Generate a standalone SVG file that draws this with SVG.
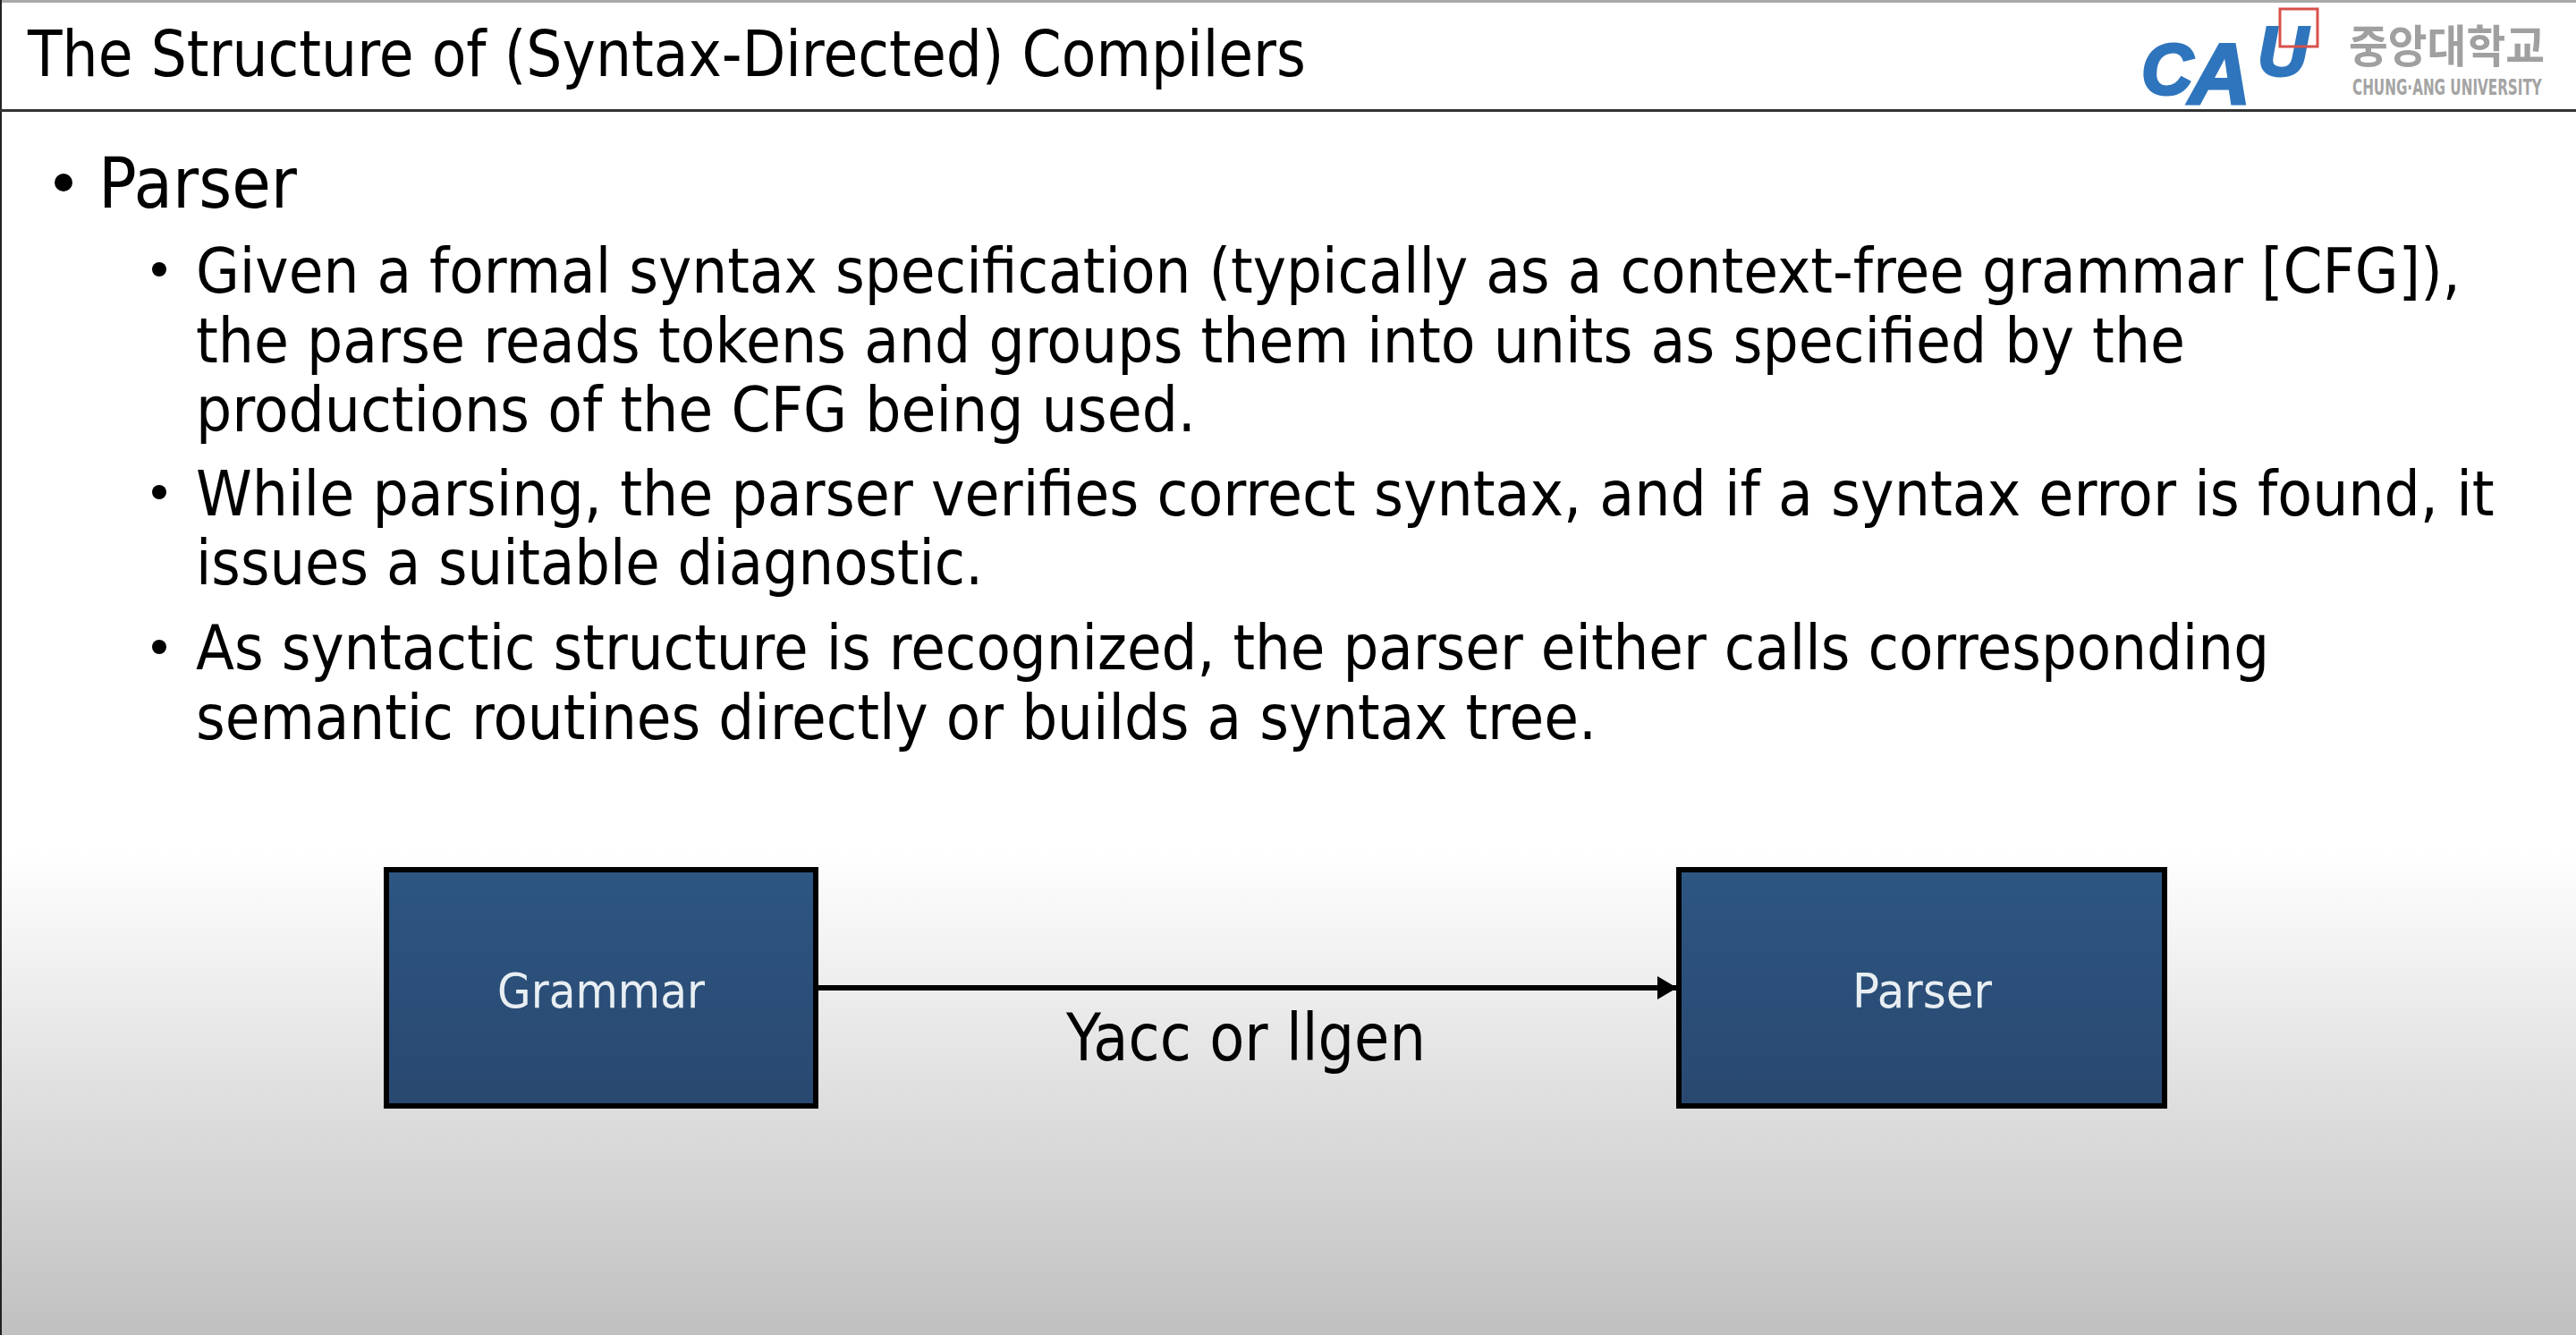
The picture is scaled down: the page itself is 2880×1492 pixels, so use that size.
<svg xmlns="http://www.w3.org/2000/svg" width="2880" height="1492" viewBox="0 0 2880 1492">
<defs>
<linearGradient id="bg" x1="0" y1="0" x2="0" y2="1"><stop offset="0" stop-color="#fff"/><stop offset="0.637" stop-color="#fff"/><stop offset="1" stop-color="#c0c0c0"/></linearGradient>
<linearGradient id="box" x1="0" y1="0" x2="0" y2="1"><stop offset="0" stop-color="#2d5682"/><stop offset="1" stop-color="#294870"/></linearGradient>
<marker id="arrow" markerUnits="userSpaceOnUse" markerWidth="22" markerHeight="26" refX="22" refY="13" orient="auto"><path d="M0 0L22 13L0 26Z" fill="#000"/></marker>
</defs>
<style>
text{font-family:"DejaVu Sans","Liberation Sans",sans-serif;fill:#000}
.t{font-size:71px}.a{font-size:78px}.b{font-size:69px}.l{font-size:53px;fill:#e8eef2;text-anchor:middle}
rect.n{fill:url(#box);stroke:#000;stroke-width:6}
</style>
<rect width="2880" height="1492" fill="url(#bg)"/>
<rect width="2880" height="3" fill="#a8a8a8"/>
<rect width="2" height="1492" fill="#222"/>
<rect y="122" width="2880" height="3" fill="#333"/>
<text class="t" x="31" y="85" textLength="1429" lengthAdjust="spacingAndGlyphs">The Structure of (Syntax-Directed) Compilers</text>
<g id="logo">
<text font-style="italic" font-weight="700" stroke="#2f75bd" stroke-width="3" style="font-family:'Liberation Sans',sans-serif;fill:#2f75bd"><tspan x="2394" y="105" font-size="80">C</tspan><tspan x="2447" y="116" font-size="96">A</tspan><tspan x="2524" y="84" font-size="78">U</tspan></text>
<rect x="2549" y="10" width="42" height="42" fill="none" stroke="#d8504a" stroke-width="3"/>
<text x="2626" y="70" font-size="50" font-weight="700" textLength="219" lengthAdjust="spacingAndGlyphs" style="font-family:'Noto Sans CJK KR',sans-serif;fill:#a0a0a0">중앙대학교</text>
<text transform="translate(2630 106) scale(.6 1)" font-size="25" font-weight="700" textLength="353" lengthAdjust="spacingAndGlyphs" style="fill:#a4a4a4">CHUNG·ANG UNIVERSITY</text>
</g>
<g id="bullets">
<circle cx="71" cy="204" r="10"/>
<text class="a" x="110" y="232" textLength="222" lengthAdjust="spacingAndGlyphs">Parser</text>
<circle cx="178" cy="301" r="8"/>
<text class="b" transform="translate(219 327) scale(.86 1)" textLength="2944" lengthAdjust="spacingAndGlyphs">Given a formal syntax specification (typically as a context-free grammar [CFG]),</text>
<text class="b" x="219" y="405" textLength="2224" lengthAdjust="spacingAndGlyphs">the parse reads tokens and groups them into units as specified by the</text>
<text class="b" x="219" y="482" textLength="1118" lengthAdjust="spacingAndGlyphs">productions of the CFG being used.</text>
<circle cx="178" cy="550" r="8"/>
<text class="b" transform="translate(219 576) scale(.86 1)" textLength="2988" lengthAdjust="spacingAndGlyphs">While parsing, the parser verifies correct syntax, and if a syntax error is found, it</text>
<text class="b" x="219" y="653" textLength="880" lengthAdjust="spacingAndGlyphs">issues a suitable diagnostic.</text>
<circle cx="178" cy="723" r="8"/>
<text class="b" x="219" y="748" textLength="2318" lengthAdjust="spacingAndGlyphs">As syntactic structure is recognized, the parser either calls corresponding</text>
<text class="b" x="219" y="826" textLength="1566" lengthAdjust="spacingAndGlyphs">semantic routines directly or builds a syntax tree.</text>
</g>
<g id="connectors">
<line x1="914" y1="1104" x2="1875" y2="1104" stroke="#000" stroke-width="6" marker-end="url(#arrow)"/>
<text x="1393" y="1185" font-size="73" text-anchor="middle" textLength="402" lengthAdjust="spacingAndGlyphs">Yacc or llgen</text>
</g>
<g id="grammar"><rect class="n" x="432" y="972" width="480" height="264"/><text class="l" x="672" y="1126" textLength="232" lengthAdjust="spacingAndGlyphs">Grammar</text></g>
<g id="parser"><rect class="n" x="1877" y="972" width="543" height="264"/><text class="l" x="2149" y="1126" textLength="156" lengthAdjust="spacingAndGlyphs">Parser</text></g>
</svg>
